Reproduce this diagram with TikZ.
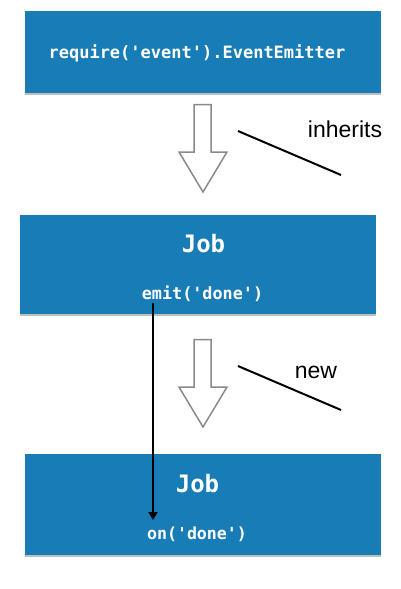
\documentclass[tikz,border=0pt]{standalone}
\usepackage{fontspec}
\setmainfont{Liberation Sans}
\setmonofont{DejaVu Sans Mono}
\usetikzlibrary{arrows.meta, shadows}

\definecolor{boxblue}{RGB}{24,124,182}
\definecolor{arrowgray}{RGB}{138,138,138}

\begin{document}
\begin{tikzpicture}[x=1pt, y=-1pt,
    box/.style={fill=boxblue, draw=none, minimum width=356pt,
      drop shadow={shadow xshift=0pt, shadow yshift=-1.5pt, opacity=0.25, fill=black}},
    code/.style={text=white, anchor=base, font=\ttfamily\bfseries\fontsize{17}{20}\selectfont},
    title/.style={text=white, anchor=base, font=\ttfamily\bfseries\fontsize{24}{28}\selectfont},
    hollow/.style={draw=arrowgray, line width=1.5pt, fill=white, line join=miter},
    slash/.style={line width=2pt},
    word/.style={anchor=base, font=\fontsize{23}{27}\selectfont}]
  \useasboundingbox (0,0) rectangle (401,589);

  % Base class
  \node[box, minimum height=82pt] (emitter) at (203,52) {};
  \node[code] (emitterText) at (197,58) {require('event').EventEmitter};

  % Job class
  \node[box, minimum height=99pt] (job) at (198,264.5) {};
  \node[title] (jobName) at (203.5,252) {Job};
  \node[code, font=\ttfamily\bfseries\fontsize{16.8}{20}\selectfont] (emit) at (202.5,299) {emit('done')};

  % Job instance
  \node[box, minimum height=101pt] (inst) at (203,504.5) {};
  \node[title] (instName) at (197.5,492) {Job};
  \node[code, font=\ttfamily\bfseries\fontsize{16.6}{20}\selectfont] (on) at (197,539) {on('done')};

  % Hollow arrows
  \draw[hollow] (194,104.5) -- (211,104.5) -- (211,152) -- (227,152) -- (203,192)
    -- (179,152) -- (194,152) -- cycle;
  \draw[hollow] (194,339.5) -- (211,339.5) -- (211,387) -- (227,387) -- (203,427)
    -- (179,387) -- (194,387) -- cycle;

  % Labels with slashes
  \draw[slash] (238,131) -- (341,175);
  \node[word] (inherits) at (345,137) {inherits};
  \draw[slash] (238,366) -- (341,410);
  \node[word] (new) at (316,378) {new};

  % Event goes from emit to on
  \coordinate (emitFoot) at (153,303);
  \coordinate (onHead) at (153,520);
  \draw[line width=2pt, -{Triangle[length=8pt, width=9pt]}] (emitFoot) -- (onHead);
\end{tikzpicture}
\end{document}
